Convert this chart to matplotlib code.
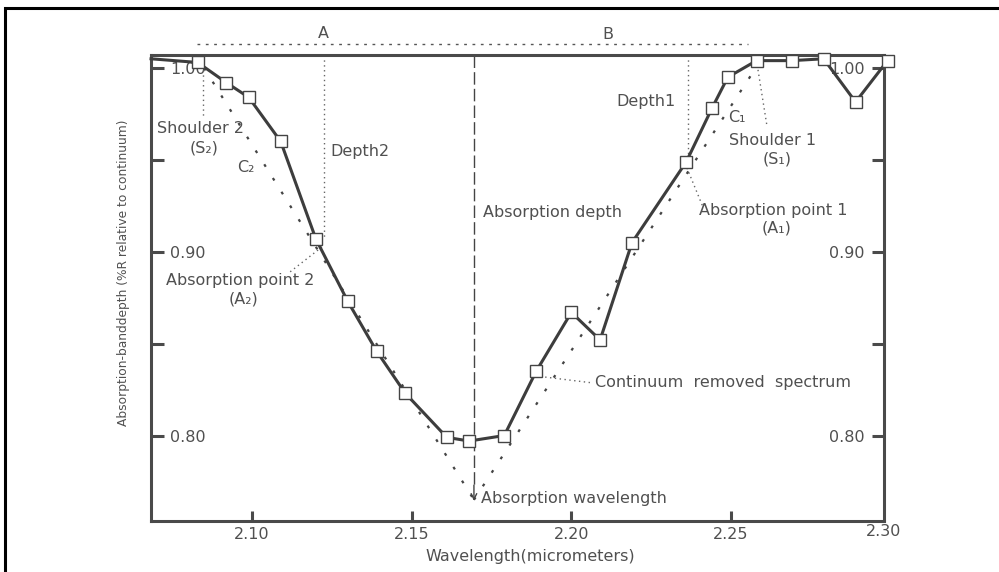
import matplotlib
matplotlib.use("Agg")
import matplotlib.pyplot as plt
from matplotlib.patches import Rectangle
from matplotlib.transforms import blended_transform_factory

# ---------------------------------------------------------
# data
# ---------------------------------------------------------
# sampled spectrum (square markers)
wavelength = [2.083, 2.092, 2.099, 2.109, 2.120, 2.130, 2.139, 2.148, 2.161, 2.168,
              2.179, 2.189, 2.200, 2.209, 2.219, 2.236, 2.244, 2.249, 2.258, 2.269,
              2.279, 2.289, 2.299]
reflectance = [1.003, 0.992, 0.984, 0.960, 0.907, 0.873, 0.846, 0.823, 0.799, 0.797,
               0.800, 0.835, 0.867, 0.852, 0.905, 0.949, 0.978, 0.995, 1.004, 1.004,
               1.005, 0.9815, 1.004]
# curve enters from the left edge of the plot
curve_start_wl = 2.0684
curve_start_refl = 1.005

# continuum hull (dotted)
cont_left_wl = [2.085, 2.1695]
cont_left_refl = [1.000, 0.765]
cont_right_wl = [2.1695, 2.2585]
cont_right_refl = [0.765, 1.002]

absorption_wl = 2.1695
depth2_wl = 2.1225
depth1_wl = 2.2365
idx_a2 = 4      # absorption point 2
idx_a1 = 15     # absorption point 1

xticks = [2.10, 2.15, 2.20, 2.25]
xtick_labels = ["2.10", "2.15", "2.20", "2.25"]
yticks = [1.00, 0.95, 0.90, 0.85, 0.80]
ytick_labels = ["1.00", "", "0.90", "", "0.80"]

xmin, xmax = 2.0684, 2.2979
ymin, ymax = 0.7535, 1.0068

dark = "#3d3d3d"
txt = "#505050"
fs = 11.5

fig = plt.figure(figsize=(9.99, 5.72), dpi=100)
ax = fig.add_axes([0.1512, 0.0892, 0.7337, 0.8138])
ax.set_xlim(xmin, xmax)
ax.set_ylim(ymin, ymax)

# spectrum
ax.plot([curve_start_wl] + wavelength, [curve_start_refl] + reflectance,
        color=dark, lw=2.2, marker="s", ms=8, mfc="white", mec="#444444", mew=1,
        markevery=list(range(1, len(wavelength) + 1)), zorder=4, clip_on=False)

# continuum
ax.plot(cont_left_wl, cont_left_refl, ls=(0, (1.3, 6)), lw=1.6, color="#444444", zorder=3)
ax.plot(cont_right_wl, cont_right_refl, ls=(0, (1.3, 6)), lw=1.6, color="#444444", zorder=3)

# guide lines
fine = dict(ls=(0, (1, 2.5)), lw=1.0, color="#666666", zorder=2)
ax.plot([depth2_wl, depth2_wl], [ymax, reflectance[idx_a2]], **fine)
ax.plot([depth1_wl, depth1_wl], [ymax, reflectance[idx_a1]], **fine)
ax.plot([2.0847, 2.0847], [0.9989, 0.9728], **fine)
ax.plot([2.2582, 2.2613], [1.0016, 0.9679], **fine)
ax.plot([2.2362, 2.2412], [0.9456, 0.9244], **fine)
ax.plot([2.1219, 2.1119], [0.9026, 0.8890], **fine)
ax.plot([2.1918, 2.2068], [0.8318, 0.8286], **fine)

# absorption wavelength
ax.plot([absorption_wl, absorption_wl], [ymax, 0.772], ls=(0, (9, 3)), lw=1.0,
        color="#444444", zorder=2)
ax.annotate("", xy=(absorption_wl, 0.7645), xytext=(absorption_wl, 0.773),
            arrowprops=dict(arrowstyle="->", lw=1.0, color="#444444",
                            shrinkA=0, shrinkB=0))

# A / B bracket above the plot
ax.plot([2.0828, 2.2553], [1.0131, 1.0131], ls=(0, (2, 4)), lw=1.0,
        color="#555555", clip_on=False)
ax.text(depth2_wl, 1.019, "A", ha="center", va="center", fontsize=fs, color=txt)
ax.text(2.2115, 1.018, "B", ha="center", va="center", fontsize=fs, color=txt)

# annotations
notes = [
    (2.084, 0.9668, "Shoulder 2", "center"),
    (2.085, 0.9565, "(S₂)", "center"),
    (2.0981, 0.9461, "C₂", "center"),
    (2.1247, 0.9543, "Depth2", "left"),
    (2.1723, 0.9211, "Absorption depth", "left"),
    (2.2325, 0.9815, "Depth1", "right"),
    (2.2519, 0.9733, "C₁", "center"),
    (2.2629, 0.9608, "Shoulder 1", "center"),
    (2.2644, 0.9505, "(S₁)", "center"),
    (2.2632, 0.9227, "Absorption point 1", "center"),
    (2.2644, 0.9129, "(A₁)", "center"),
    (2.0962, 0.8846, "Absorption point 2", "center"),
    (2.0972, 0.8743, "(A₂)", "center"),
    (2.2074, 0.8286, "Continuum  removed  spectrum", "left"),
    (2.1717, 0.7660, "Absorption wavelength", "left"),
]
for x, y, s, ha in notes:
    ax.text(x, y, s, ha=ha, va="center", fontsize=fs, color=txt, zorder=5)

# axes styling
for sp in ax.spines.values():
    sp.set_color("#4a4a4a")
    sp.set_linewidth(2.2)

ax.set_xticks(xticks)
ax.set_xticklabels(xtick_labels)
ax.set_yticks(yticks)
ax.set_yticklabels(ytick_labels)
ax.tick_params(axis="x", direction="in", length=7, width=2.2, color="#4a4a4a",
               labelsize=fs, labelcolor=txt, pad=4)
ax.tick_params(axis="y", direction="in", length=9, width=2.2, color="#4a4a4a",
               labelsize=fs, labelcolor=txt, left=True, right=True,
               labelleft=True, labelright=True, pad=-14)
for t in ax.yaxis.get_major_ticks():
    t.label1.set_horizontalalignment("left")
    t.label2.set_horizontalalignment("right")

trans = blended_transform_factory(ax.transData, ax.transAxes)
ax.text(xmax, -0.022, "2.30", transform=trans, ha="center", va="center",
        fontsize=fs, color=txt)

ax.set_xlabel("Wavelength(micrometers)", fontsize=fs, color=txt)
ax.xaxis.set_label_coords(0.517, -0.077)
ax.xaxis.label.set_va("center")
ax.set_ylabel("Absorption-banddepth (%R relative to continuum)", fontsize=8.8, color=txt)
ax.yaxis.set_label_coords(-0.038, 0.533)
ax.yaxis.label.set_va("center")

# outer frame (cut at right and bottom)
fig.add_artist(Rectangle((5 / 999, -0.1), 1.2, 0.1 + 1 - 8 / 572,
                         transform=fig.transFigure, fill=False, lw=2.2,
                         ec="black"))

fig.savefig("out.png", dpi=100)
